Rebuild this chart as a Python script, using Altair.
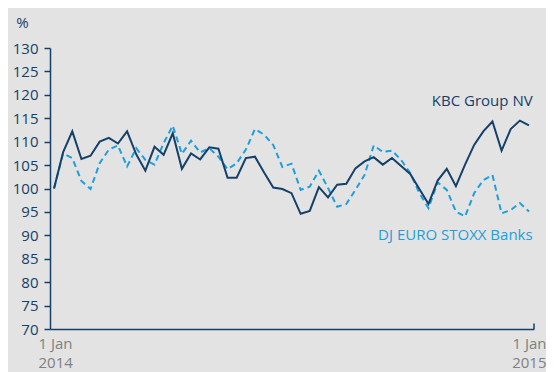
import altair as alt
import pandas as pd

weeks = list(range(53))
kbc = [100.0, 107.8, 112.2, 106.3, 107.0, 110.0, 110.8, 109.6, 112.2, 107.3,
       103.8, 108.9, 107.2, 111.8, 104.2, 107.5, 106.2, 108.8, 108.5, 102.3,
       102.3, 106.5, 106.8, 103.4, 100.2, 99.9, 99.0, 94.6, 95.2, 100.3,
       98.1, 100.8, 101.0, 104.3, 105.8, 106.7, 105.1, 106.5, 104.8, 103.1,
       99.9, 96.7, 101.7, 104.2, 100.5, 105.1, 109.3, 112.2, 114.3, 108.1,
       112.7, 114.5, 113.5]
dj = [100.0, 107.5, 106.5, 101.6, 99.9, 105.4, 108.3, 109.2, 104.7, 108.6,
      106.1, 105.1, 109.7, 113.4, 107.4, 110.2, 107.7, 108.6, 106.8, 104.1,
      105.4, 108.3, 112.7, 111.5, 109.3, 104.6, 105.3, 99.7, 100.4, 103.8,
      100.1, 96.1, 96.7, 99.7, 102.9, 109.2, 107.8, 108.1, 106.1, 103.3,
      99.0, 95.8, 101.3, 99.7, 95.1, 94.0, 99.0, 101.8, 102.9, 94.7,
      95.4, 96.9, 95.1]
series_names = ["KBC Group NV", "DJ EURO STOXX Banks"]
y_ticks = [70, 75, 80, 85, 90, 95, 100, 105, 110, 115, 120, 125, 130]
x_ends = [-0.44, 52.55]

NAVY = "#15406a"
BLUE = "#1c9fdc"
FONT = "Open Sans"

df = pd.DataFrame({
    "week": weeks * 2,
    "value": kbc + dj,
    "series": [series_names[0]] * len(kbc) + [series_names[1]] * len(dj),
})
one = pd.DataFrame({"k": [0]})

x_scale = alt.Scale(domain=x_ends, nice=False, zero=False)
y_scale = alt.Scale(domain=[70, 130], nice=False, zero=False)

x_axis = alt.Axis(
    values=x_ends,
    labelExpr="datum.value < 10 ? ['1 Jan','2014'] : ['1 Jan','2015']",
    labelColor="#808080", labelFontSize=15, labelFont=FONT,
    labelLineHeight=19, labelPadding=7, ticks=False,
    domainColor=NAVY, domainWidth=1.5, grid=False, title=None,
    labelBaseline="top", labelOverlap=False,
    labelBound=False, labelFlush=True, labelFlushOffset=12,
)
y_axis = alt.Axis(
    values=y_ticks, labelColor=NAVY, labelFontSize=15, labelFont=FONT,
    labelPadding=6, tickSize=6, tickColor=NAVY, tickWidth=1.5,
    domainColor=NAVY, domainWidth=1.5, grid=False, labelOverlap=False,
    tickCount=13,
    title="%", titleAngle=0, titleX=-28, titleY=-26, titleAlign="center",
    titleBaseline="middle", titleFontSize=15, titleFontWeight="normal",
    titleColor=NAVY, titleFont=FONT,
)

base = alt.Chart(df)
enc = dict(
    x=alt.X("week:Q", scale=x_scale, axis=x_axis),
    y=alt.Y("value:Q", scale=y_scale, axis=y_axis),
)

dashed = base.transform_filter(alt.datum.series == series_names[1]).mark_line(
    color=BLUE, strokeWidth=2, strokeDash=[6, 4]
).encode(**enc)
solid = base.transform_filter(alt.datum.series == series_names[0]).mark_line(
    color=NAVY, strokeWidth=2
).encode(**enc)

end_tick = alt.Chart(one).mark_rule(color=NAVY, strokeWidth=1.5).encode(
    x=alt.XDatum(x_ends[1], type="quantitative", scale=x_scale, axis=x_axis),
    y=alt.YDatum(70, type="quantitative", scale=y_scale, axis=y_axis),
    y2=alt.Y2Datum(71.2),
)

kbc_label = alt.Chart(one).mark_text(
    text=series_names[0], color=NAVY, fontSize=15, font=FONT,
    align="right", baseline="middle"
).encode(
    x=alt.XDatum(52.4, type="quantitative", scale=x_scale, axis=x_axis),
    y=alt.YDatum(118.6, type="quantitative", scale=y_scale, axis=y_axis),
)
dj_label = alt.Chart(one).mark_text(
    text=series_names[1], color=BLUE, fontSize=15, font=FONT,
    align="right", baseline="middle"
).encode(
    x=alt.XDatum(52.4, type="quantitative", scale=x_scale, axis=x_axis),
    y=alt.YDatum(90.1, type="quantitative", scale=y_scale, axis=y_axis),
)

chart = alt.layer(dashed, solid, end_tick, kbc_label, dj_label).properties(
    width=484, height=281,
    autosize=alt.AutoSizeParams(type="none"),
    padding={"left": 42, "top": 40, "right": 12, "bottom": 43},
    background="#e3e3e3",
).configure_view(stroke=None)

chart.save("out.html", embed_options={"renderer": "svg", "actions": False})
